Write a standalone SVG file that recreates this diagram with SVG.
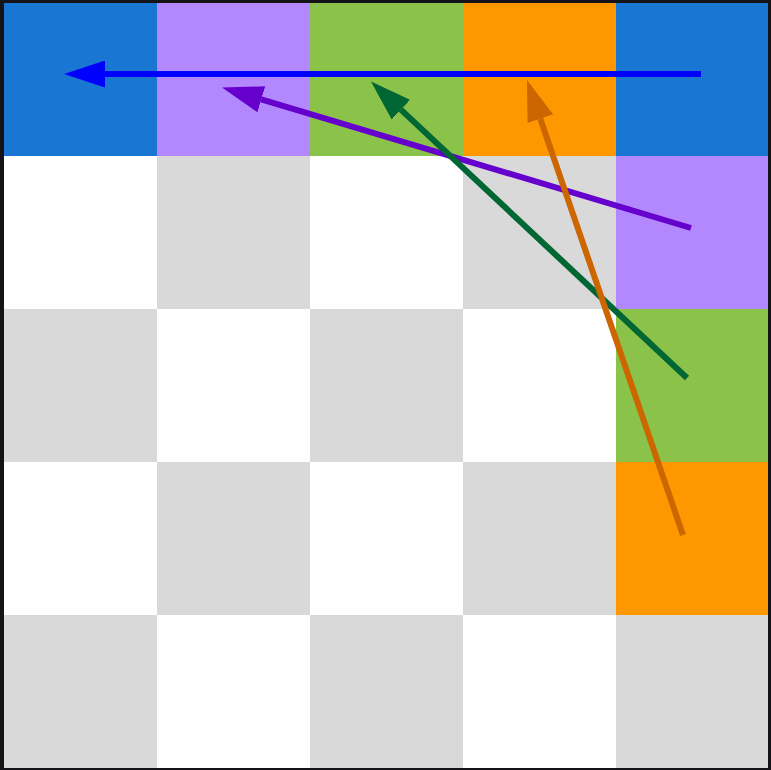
<svg xmlns="http://www.w3.org/2000/svg" width="771" height="770" viewBox="0 0 771 770">
<style>
.w{fill:#ffffff}.g{fill:#d9d9d9}.b{fill:#1976d2}.p{fill:#b388ff}.gr{fill:#8bc34a}.o{fill:#ff9800}
.a{fill:none;stroke-width:6}
</style>
<defs>
<marker id="hb" markerUnits="userSpaceOnUse" markerWidth="41" markerHeight="27" refX="0" refY="13.5" orient="auto"><path d="M0,0 L41,13.5 L0,27 Z" fill="#0000ff"/></marker>
<marker id="hp" markerUnits="userSpaceOnUse" markerWidth="41" markerHeight="27" refX="0" refY="13.5" orient="auto"><path d="M0,0 L41,13.5 L0,27 Z" fill="#6600cc"/></marker>
<marker id="hg" markerUnits="userSpaceOnUse" markerWidth="41" markerHeight="27" refX="0" refY="13.5" orient="auto"><path d="M0,0 L41,13.5 L0,27 Z" fill="#006633"/></marker>
<marker id="ho" markerUnits="userSpaceOnUse" markerWidth="41" markerHeight="27" refX="0" refY="13.5" orient="auto"><path d="M0,0 L41,13.5 L0,27 Z" fill="#cc6600"/></marker>
</defs>
<rect x="0" y="0" width="771" height="770" fill="#141418"/>
<g id="grid">
<rect class="b" x="4" y="3" width="153" height="153"/>
<rect class="p" x="157" y="3" width="153" height="153"/>
<rect class="gr" x="310" y="3" width="153" height="153"/>
<rect class="o" x="463" y="3" width="153" height="153"/>
<rect class="b" x="616" y="3" width="152" height="153"/>
<rect class="w" x="4" y="156" width="153" height="153"/>
<rect class="g" x="157" y="156" width="153" height="153"/>
<rect class="w" x="310" y="156" width="153" height="153"/>
<rect class="g" x="463" y="156" width="153" height="153"/>
<rect class="p" x="616" y="156" width="152" height="153"/>
<rect class="g" x="4" y="309" width="153" height="153"/>
<rect class="w" x="157" y="309" width="153" height="153"/>
<rect class="g" x="310" y="309" width="153" height="153"/>
<rect class="w" x="463" y="309" width="153" height="153"/>
<rect class="gr" x="616" y="309" width="152" height="153"/>
<rect class="w" x="4" y="462" width="153" height="153"/>
<rect class="g" x="157" y="462" width="153" height="153"/>
<rect class="w" x="310" y="462" width="153" height="153"/>
<rect class="g" x="463" y="462" width="153" height="153"/>
<rect class="o" x="616" y="462" width="152" height="153"/>
<rect class="g" x="4" y="615" width="153" height="153"/>
<rect class="w" x="157" y="615" width="153" height="153"/>
<rect class="g" x="310" y="615" width="153" height="153"/>
<rect class="w" x="463" y="615" width="153" height="153"/>
<rect class="g" x="616" y="615" width="152" height="153"/>
</g>
<g id="connectors">
<path class="a" d="M701,74 L105,74" stroke="#0000ff" marker-end="url(#hb)"/>
<path class="a" d="M691,228 L261.3,99.3" stroke="#6600cc" marker-end="url(#hp)"/>
<path class="a" d="M687,378 L400.9,109.6" stroke="#006633" marker-end="url(#hg)"/>
<path class="a" d="M683,535 L540.3,118.8" stroke="#cc6600" marker-end="url(#ho)"/>
</g>
</svg>
